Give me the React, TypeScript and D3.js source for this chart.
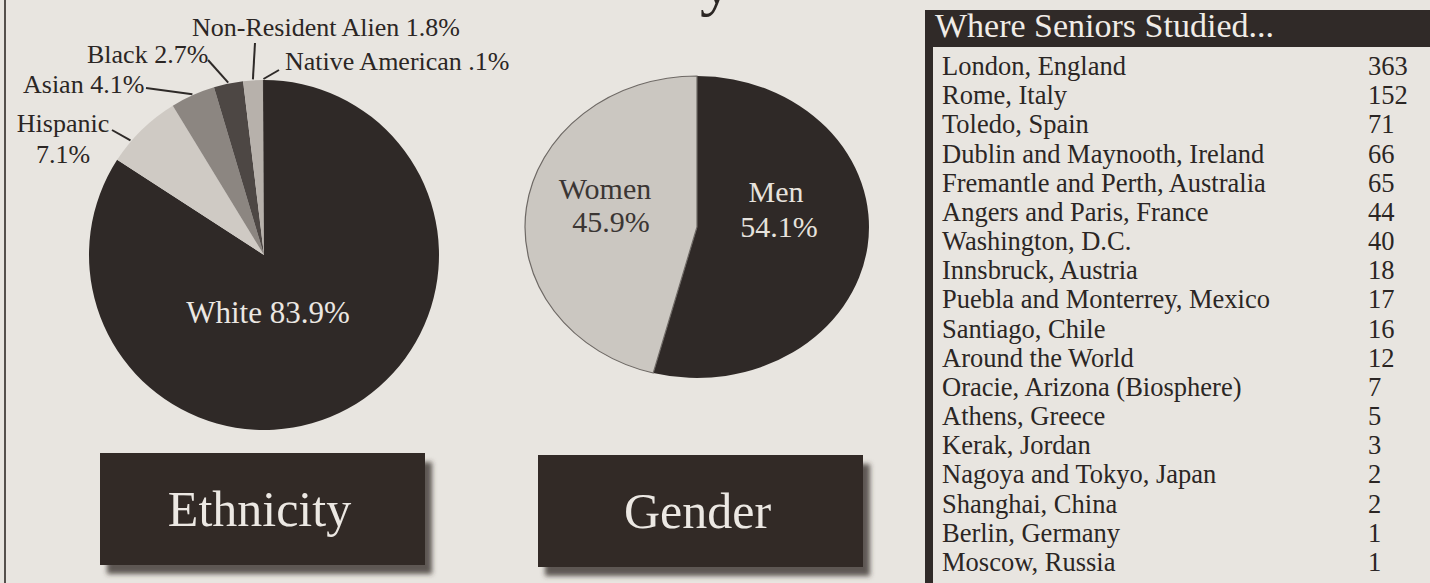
import React from "react";
import * as d3 from "d3";

// ---------- data ----------
const ethnicityNames = ["White", "Hispanic", "Asian", "Black", "Non-Resident Alien", "Native American"];
const ethnicityValues = [83.9, 7.1, 4.1, 2.7, 1.8, 0.1];
const ethnicityValueText = ["83.9%", "7.1%", "4.1%", "2.7%", "1.8%", ".1%"];

const genderNames = ["Men", "Women"];
const genderValues = [54.1, 45.9];
const genderValueText = ["54.1%", "45.9%"];

const studyPlaces = [
  "London, England",
  "Rome, Italy",
  "Toledo, Spain",
  "Dublin and Maynooth, Ireland",
  "Fremantle and Perth, Australia",
  "Angers and Paris, France",
  "Washington, D.C.",
  "Innsbruck, Austria",
  "Puebla and Monterrey, Mexico",
  "Santiago, Chile",
  "Around the World",
  "Oracie, Arizona (Biosphere)",
  "Athens, Greece",
  "Kerak, Jordan",
  "Nagoya and Tokyo, Japan",
  "Shanghai, China",
  "Berlin, Germany",
  "Moscow, Russia",
];
const studyCounts = [363, 152, 71, 66, 65, 44, 40, 18, 17, 16, 12, 7, 5, 3, 2, 2, 1, 1];

const boxTitles = ["Ethnicity", "Gender"];
const tableTitle = "Where Seniors Studied...";

// ---------- styling ----------
const W = 1430;
const H = 583;
const PAPER = "#e8e5e0";
const INK = "#2b2624";
const DARK = "#302a28";
const SERIF = "'Liberation Serif', 'Times New Roman', serif";

const ethColors = ["#2f2927", "#cfcac4", "#8c8681", "#4d4744", "#b7b1ab", "#3a3431"];
const genderColors = ["#2f2927", "#cbc7c1"];

// ethnicity layout
const ethCx = 264;
const ethCy = 255;
const ethR = 175;
// external label anchors (text x, baseline y), leader start, and where along the slice the leader meets the rim
const ethLabelPos: Record<string, { x: number; y: number; lx: number; ly: number; f: number }> = {
  Hispanic: { x: 63, y: 132, lx: 112, ly: 130, f: 0.3 },
  Asian: { x: 23, y: 93, lx: 146, ly: 88, f: 0.5 },
  Black: { x: 87, y: 63, lx: 208, ly: 60, f: 0.5 },
  "Non-Resident Alien": { x: 192, y: 36, lx: 255, ly: 43, f: 0.5 },
  "Native American": { x: 285, y: 70, lx: 279, ly: 70, f: 0.5 },
};

// gender layout
const genCx = 697;
const genCy = 227;
const genRx = 172;
const genRy = 151;

export default function App() {
  const ethPie = d3.pie<number>().sort(null).startAngle(0).endAngle(2 * Math.PI)(ethnicityValues);
  const ethArc = d3.arc<d3.PieArcDatum<number>>().innerRadius(0).outerRadius(ethR);

  const genPie = d3.pie<number>().sort(null).startAngle(0).endAngle(2 * Math.PI)(genderValues);
  const genArc = d3.arc<d3.PieArcDatum<number>>().innerRadius(0).outerRadius(genRx);

  const rowY = d3.scalePoint<string>().domain(studyPlaces).range([75, 571]);

  const boxX = d3.scaleOrdinal<string, number>().domain(boxTitles).range([100, 538]);
  const boxY = d3.scaleOrdinal<string, number>().domain(boxTitles).range([453, 455]);
  const boxW = 325;
  const boxH = 112;

  return (
    <svg
      width={W}
      height={H}
      viewBox={`0 0 ${W} ${H}`}
      style={{ position: "absolute", left: 0, top: 0, display: "block" }}
    >
      <defs>
        <filter id="boxShadow" x="-10%" y="-10%" width="130%" height="140%">
          <feDropShadow dx="7" dy="9" stdDeviation="2.5" floodColor="#3a3533" floodOpacity="0.8" />
        </filter>
      </defs>
      <rect x={0} y={0} width={W} height={H} fill={PAPER} />

      {/* left border rule */}
      <rect x={4} y={0} width={2} height={H} fill="#55504c" />

      {/* cropped title descender */}
      <text x={700} y={3} fontFamily={SERIF} fontSize={66} fill={INK}>
        y
      </text>

      {/* ---------- Ethnicity pie ---------- */}
      <g transform={`translate(${ethCx},${ethCy})`}>
        {ethPie.map((d, i) => (
          <path key={i} d={ethArc(d) || ""} fill={ethColors[i]} />
        ))}
      </g>
      <text
        x={ethCx + 4}
        y={323}
        textAnchor="middle"
        fontFamily={SERIF}
        fontSize={31}
        fill="#ebe7e2"
      >
        {`${ethnicityNames[0]} ${ethnicityValueText[0]}`}
      </text>
      {ethPie.slice(1).map((d, j) => {
        const i = j + 1;
        const name = ethnicityNames[i];
        const p = ethLabelPos[name];
        const a = d.startAngle + (d.endAngle - d.startAngle) * p.f;
        const ex = ethCx + (ethR + 1) * Math.sin(a);
        const ey = ethCy - (ethR + 1) * Math.cos(a);
        return (
          <g key={name}>
            <line x1={p.lx} y1={p.ly} x2={ex} y2={ey} stroke="#2e2a28" strokeWidth={2} />
            {name === "Hispanic" ? (
              <text textAnchor="middle" fontFamily={SERIF} fontSize={26} fill={INK}>
                <tspan x={p.x} y={p.y}>
                  {name}
                </tspan>
                <tspan x={p.x} y={p.y + 31}>
                  {ethnicityValueText[i]}
                </tspan>
              </text>
            ) : (
              <text x={p.x} y={p.y} fontFamily={SERIF} fontSize={26} fill={INK}>
                {`${name} ${ethnicityValueText[i]}`}
              </text>
            )}
          </g>
        );
      })}

      {/* ---------- Gender pie (elliptical) ---------- */}
      <g transform={`translate(${genCx},${genCy}) scale(1,${genRy / genRx})`}>
        {genPie.map((d, i) => (
          <path
            key={i}
            d={genArc(d) || ""}
            fill={genderColors[i]}
            stroke={i === 1 ? "#6e6965" : "none"}
            strokeWidth={i === 1 ? 1.2 : 0}
          />
        ))}
      </g>
      <text textAnchor="middle" fontFamily={SERIF} fontSize={30} fill="#e6e2dd">
        <tspan x={776} y={202}>
          {genderNames[0]}
        </tspan>
        <tspan x={779} y={237}>
          {genderValueText[0]}
        </tspan>
      </text>
      <text textAnchor="middle" fontFamily={SERIF} fontSize={30} fill="#3b3634">
        <tspan x={605} y={199}>
          {genderNames[1]}
        </tspan>
        <tspan x={611} y={232}>
          {genderValueText[1]}
        </tspan>
      </text>

      {/* ---------- Title boxes ---------- */}
      {boxTitles.map((t) => (
        <g key={t}>
          <rect
            x={boxX(t)}
            y={boxY(t)}
            width={boxW}
            height={boxH}
            fill={DARK}
            filter="url(#boxShadow)"
          />
          <text
            x={boxX(t) + boxW / 2 - 3}
            y={boxY(t) + 73}
            textAnchor="middle"
            fontFamily={SERIF}
            fontSize={50}
            fill="#ece8e3"
          >
            {t}
          </text>
        </g>
      ))}

      {/* ---------- Study-abroad table ---------- */}
      <rect x={925} y={10} width={W - 925} height={37} fill={DARK} />
      <text x={935} y={37} fontFamily={SERIF} fontSize={34} fill="#f0ece7">
        {tableTitle}
      </text>
      <rect x={925} y={47} width={8} height={H - 47} fill={DARK} />
      {studyPlaces.map((p, i) => (
        <g key={p}>
          <text x={942} y={rowY(p)} fontFamily={SERIF} fontSize={26.5} fill={INK}>
            {p}
          </text>
          <text x={1368} y={rowY(p)} fontFamily={SERIF} fontSize={26.5} fill={INK}>
            {studyCounts[i]}
          </text>
        </g>
      ))}
    </svg>
  );
}
